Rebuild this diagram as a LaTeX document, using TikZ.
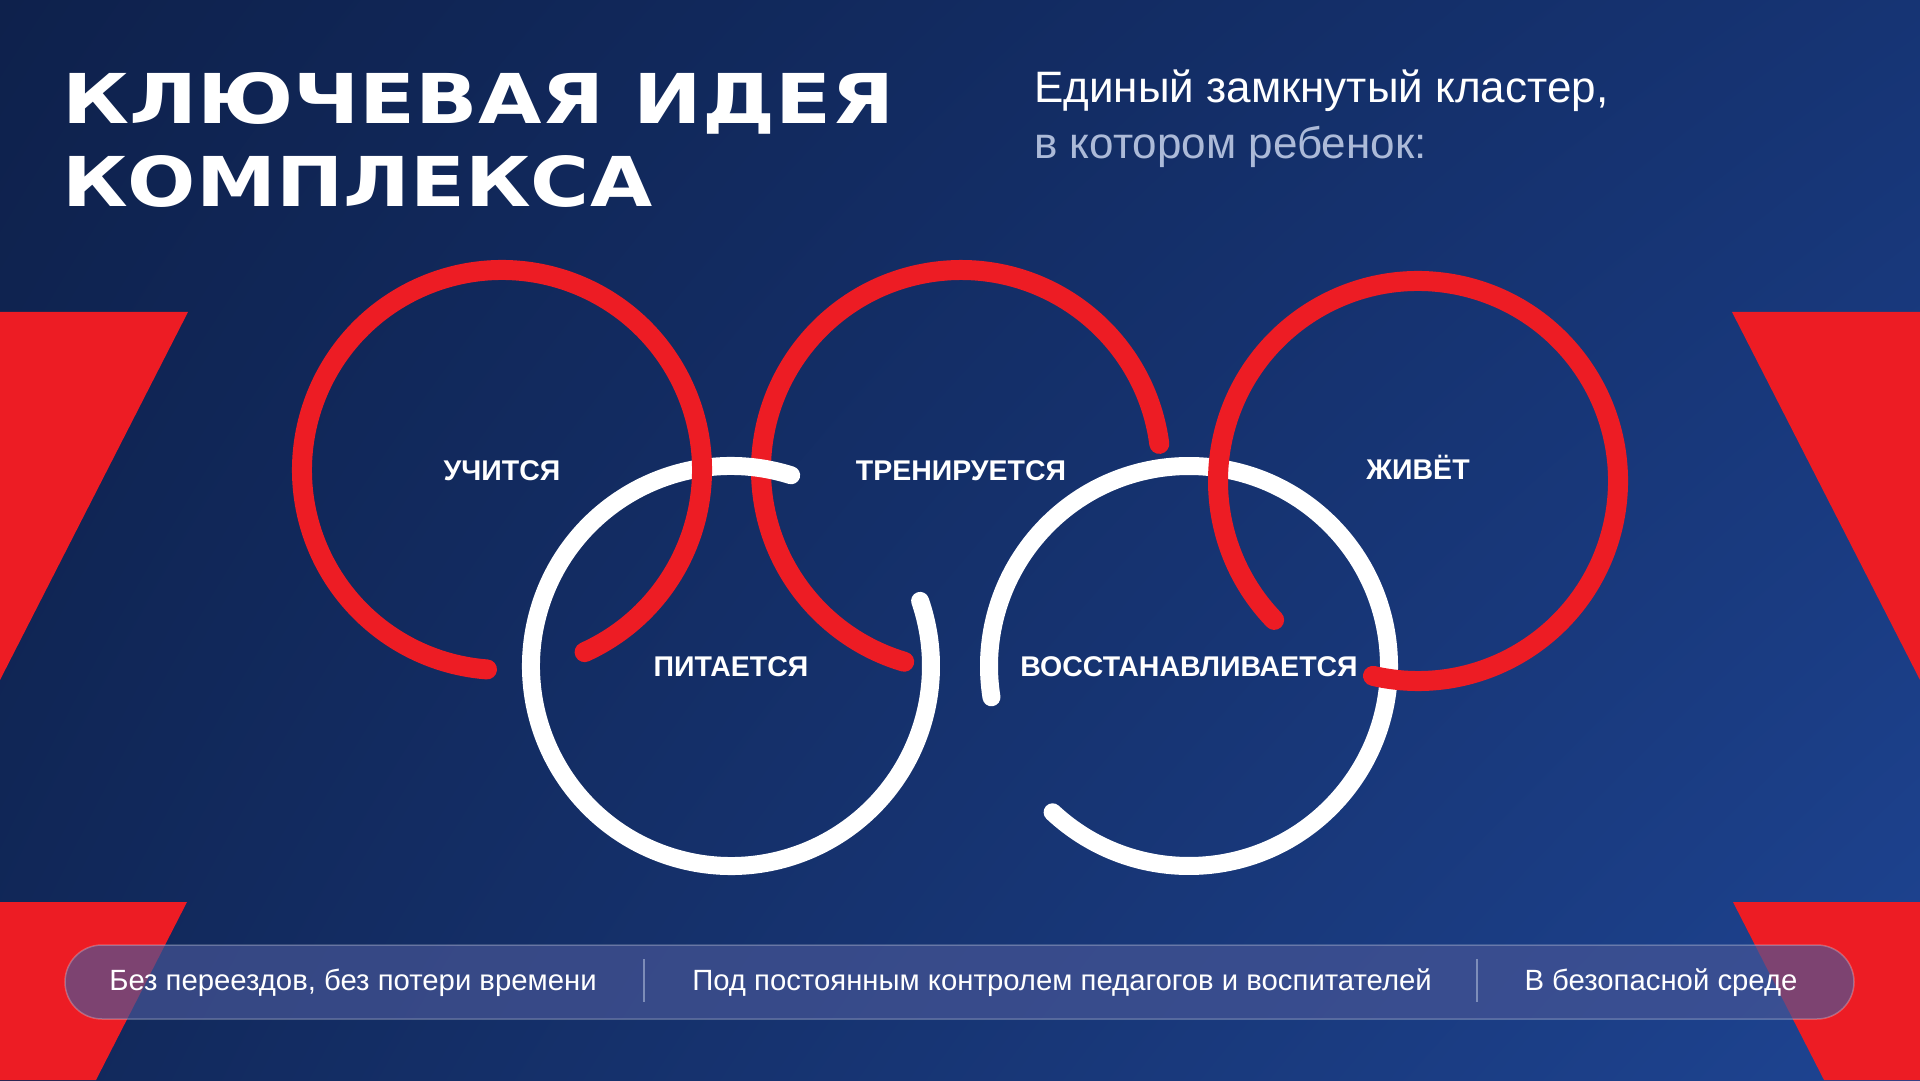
\documentclass[tikz,border=0pt]{standalone}
\usepackage{fontspec}
\setmainfont{Liberation Sans}
\newfontfamily\titlefont{DejaVu Sans}
\usetikzlibrary{positioning,shadings}

\definecolor{navyA}{RGB}{14,33,76}
\definecolor{navyB}{RGB}{22,52,116}
\definecolor{navyC}{RGB}{17,40,90}
\definecolor{navyD}{RGB}{30,68,146}
\definecolor{ringred}{RGB}{237,28,36}
\definecolor{softgray}{RGB}{172,186,216}
\definecolor{pillfill}{RGB}{72,86,150}

\tikzset{
	redring/.style={draw=ringred, line width=20pt, line cap=round},
	whitering/.style={draw=white, line width=18pt, line cap=round},
	ringlabel/.style={text=white, inner sep=0, text height=20.5pt, text depth=0pt,
		font=\fontsize{28.5}{34}\selectfont\bfseries},
	pilltext/.style={text=white, inner sep=0, anchor=base,
		font=\fontsize{29.3}{35}\selectfont},
	wedge/.style={fill=ringred},
}

\begin{document}
\begin{tikzpicture}[x=1pt, y=1pt]
	% background
	\shade[upper left=navyA, upper right=navyB, lower left=navyC, lower right=navyD]
		(0,0) rectangle (1920,1080);
	\useasboundingbox (0,0) rectangle (1920,1080);

	% red wedges
	\fill[wedge] (0,768) -- (188,768) -- (0,400) -- cycle;
	\fill[wedge] (1732,768) -- (1920,768) -- (1920,400) -- cycle;
	\fill[wedge] (0,178) -- (187,178) -- (96,0) -- (0,0) -- cycle;
	\fill[wedge] (1733,178) -- (1920,178) -- (1920,0) -- (1824,0) -- cycle;

	% title
	\node[anchor=base west, inner sep=0, text=white] (title1) at (62,956)
		{\resizebox{832pt}{51pt}{\titlefont\bfseries КЛЮЧЕВАЯ ИДЕЯ}};
	\node[anchor=base west, inner sep=0, text=white] (title2) at (62,873)
		{\resizebox{590pt}{51pt}{\titlefont\bfseries КОМПЛЕКСА}};
	\node[anchor=base west, inner sep=0, text=white, font=\fontsize{44}{52}\selectfont]
		(sub1) at (1034,977) {Единый замкнутый кластер,};
	\node[anchor=base west, inner sep=0, text=softgray, font=\fontsize{44}{52}\selectfont]
		(sub2) at (1034,921) {в котором ребенок:};

	% ring centres
	\coordinate (c1) at (502,610);
	\coordinate (c2) at (961,610);
	\coordinate (c3) at (1418,599);
	\coordinate (c4) at (731,414);
	\coordinate (c5) at (1189,414);

	% rings, back to front
	\draw[redring] (c2) ++(7.5:200) arc[start angle=7.5, end angle=253.5, radius=200];
	\draw[whitering] (c4) ++(72.5:200) arc[start angle=72.5, end angle=379, radius=200];
	\draw[redring] (c1) ++(294.4:200) arc[start angle=294.4, end angle=625.7, radius=200];
	\draw[whitering] (c5) ++(-133:200) arc[start angle=-133, end angle=189, radius=200];
	\draw[redring] (c3) ++(-103:200) arc[start angle=-103, end angle=224, radius=200];

	% ring labels
	\node[ringlabel] (learn) at (c1) {УЧИТСЯ};
	\node[ringlabel] (train) at (c2) {ТРЕНИРУЕТСЯ};
	\node[ringlabel] (live) at (1418,611) {ЖИВЁТ};
	\node[ringlabel] (eat) at (c4) {ПИТАЕТСЯ};
	\node[ringlabel] (rest) at (c5) {ВОССТАНАВЛИВАЕТСЯ};

	% bottom bar
	\node[fill=pillfill, fill opacity=0.68, draw=white, draw opacity=0.25, line width=1.5pt,
		rounded corners=37pt, minimum width=1789pt, minimum height=74pt, inner sep=0]
		(bar) at (959.5,98) {};
	\draw[softgray, opacity=0.6, line width=1.5pt] (644,78) -- (644,121);
	\draw[softgray, opacity=0.6, line width=1.5pt] (1477,78) -- (1477,121);
	\node[pilltext] (move) at (353,90) {Без переездов, без потери времени};
	\node[pilltext] (care) at (1062,90) {Под постоянным контролем педагогов и воспитателей};
	\node[pilltext] (safe) at (1661,90) {В безопасной среде};
\end{tikzpicture}
\end{document}
